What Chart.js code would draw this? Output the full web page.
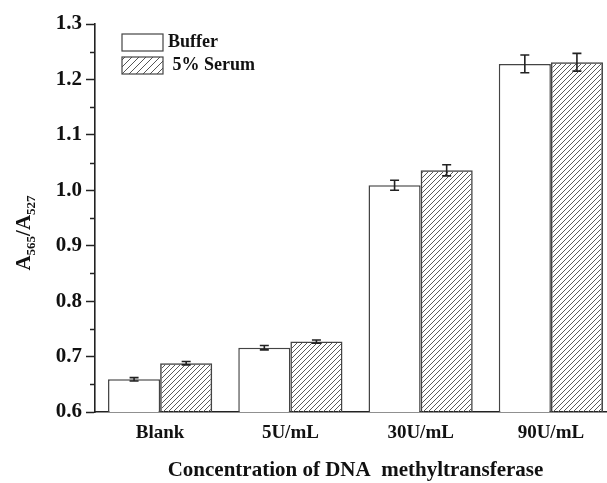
<!DOCTYPE html>
<html>
<head>
<meta charset="utf-8">
<script src="https://cdn.jsdelivr.net/npm/chart.js@4"></script>
<style>
  html, body { margin: 0; padding: 0; background: #fff; overflow: hidden; }
  #wrap { width: 625px; height: 483px; }
</style>
</head>
<body>
<div id="wrap"><canvas id="barChart" width="625" height="483"></canvas></div>
<script>
  // values
  const categories = ['Blank', '5U/mL', '30U/mL', '90U/mL'];
  const seriesLabels = ['Buffer', ' 5% Serum'];
  const bufferValues = [0.659, 0.716, 1.009, 1.228];
  const bufferErrors = [0.003, 0.004, 0.009, 0.016];
  const serumValues = [0.688, 0.727, 1.036, 1.231];
  const serumErrors = [0.003, 0.003, 0.010, 0.016];
  const yMin = 0.6, yMax = 1.3, yStep = 0.1;
  const xTitle = 'Concentration of DNA  methyltransferase';

  const serif = '"Liberation Serif", "Times New Roman", serif';
  const ink = '#222';

  function hatch(step, color) {
    const c = document.createElement('canvas');
    c.width = step; c.height = step;
    const g = c.getContext('2d');
    g.strokeStyle = color;
    g.lineWidth = 1;
    g.beginPath();
    g.moveTo(-1, step + 1); g.lineTo(step + 1, -1);
    g.moveTo(-1, 1); g.lineTo(1, -1);
    g.moveTo(step - 1, step + 1); g.lineTo(step + 1, step - 1);
    g.stroke();
    return g.createPattern(c, 'repeat');
  }

  const ctx = document.getElementById('barChart').getContext('2d');
  const barHatch = hatch(5, '#5a5a5a');
  const legendHatch = hatch(7, '#555');
  const errors = [bufferErrors, serumErrors];

  const errorBars = {
    id: 'errorBars',
    afterDatasetsDraw(chart) {
      const y = chart.scales.y;
      const c = chart.ctx;
      c.save();
      c.strokeStyle = ink;
      c.lineWidth = 1.6;
      chart.data.datasets.forEach((ds, di) => {
        chart.getDatasetMeta(di).data.forEach((bar, i) => {
          const v = ds.data[i], e = errors[di][i];
          const top = y.getPixelForValue(v + e), bot = y.getPixelForValue(v - e);
          c.beginPath();
          c.moveTo(bar.x, top); c.lineTo(bar.x, bot);
          c.moveTo(bar.x - 4.5, top); c.lineTo(bar.x + 4.5, top);
          c.moveTo(bar.x - 4.5, bot); c.lineTo(bar.x + 4.5, bot);
          c.stroke();
        });
      });
      c.restore();
    }
  };

  const extras = {
    id: 'extras',
    afterDraw(chart) {
      const c = chart.ctx;
      const y = chart.scales.y;
      const left = chart.chartArea.left;
      c.save();
      // minor ticks
      c.strokeStyle = ink;
      c.lineWidth = 1.5;
      for (let v = yMin + yStep / 2; v < yMax; v += yStep) {
        const p = Math.round(y.getPixelForValue(v)) + 0.5;
        c.beginPath(); c.moveTo(left - 5, p); c.lineTo(left, p); c.stroke();
      }
      // legend
      const boxes = [ '#fff', legendHatch ];
      c.font = 'bold 18px ' + serif;
      c.textBaseline = 'middle';
      boxes.forEach((fill, i) => {
        const bx = 122, by = 34 + i * 23;
        c.fillStyle = '#fff';
        c.fillRect(bx, by, 41, 17);
        c.fillStyle = fill;
        c.fillRect(bx, by, 41, 17);
        c.strokeStyle = '#444';
        c.lineWidth = 1.2;
        c.strokeRect(bx, by, 41, 17);
        c.fillStyle = '#111';
        c.fillText(seriesLabels[i], 168, by + 8.5);
      });
      // y title A565/A527
      c.translate(23, 233);
      c.rotate(-Math.PI / 2);
      const parts = [['A', 21, 0], ['565', 13, 5], ['/A', 21, 0], ['527', 13, 5]];
      let w = 0;
      parts.forEach(p => { c.font = 'bold ' + p[1] + 'px ' + serif; w += c.measureText(p[0]).width; });
      let x = -w / 2;
      c.textBaseline = 'alphabetic';
      c.fillStyle = '#111';
      parts.forEach(p => {
        c.font = 'bold ' + p[1] + 'px ' + serif;
        c.fillText(p[0], x, 7 + p[2]);
        x += c.measureText(p[0]).width;
      });
      c.restore();
    }
  };

  new Chart(ctx, {
    type: 'bar',
    data: {
      labels: categories,
      datasets: [
        {
          label: seriesLabels[0],
          data: bufferValues,
          backgroundColor: '#fff',
          borderColor: '#444',
          borderWidth: 1.5,
          categoryPercentage: 0.8,
          barPercentage: 1.0
        },
        {
          label: seriesLabels[1],
          data: serumValues,
          backgroundColor: barHatch,
          borderColor: '#444',
          borderWidth: 1.5,
          categoryPercentage: 0.8,
          barPercentage: 1.0
        }
      ]
    },
    options: {
      responsive: false,
      animation: false,
      devicePixelRatio: 1,
      layout: { padding: { top: 24, right: 9, left: 0, bottom: 0 } },
      plugins: { legend: { display: false }, tooltip: { enabled: false } },
      scales: {
        x: {
          grid: { display: false, drawTicks: false },
          border: { color: ink, width: 1.6 },
          ticks: { color: '#111', font: { family: serif, size: 19, weight: 'bold' }, padding: 10 },
          title: {
            display: true,
            text: xTitle,
            color: '#111',
            font: { family: serif, size: 21, weight: 'bold' },
            padding: { top: 0, bottom: 0 }
          },
          afterFit(scale) { scale.height = 71; }
        },
        y: {
          min: yMin,
          max: yMax,
          grid: { drawOnChartArea: false, tickLength: 9, tickColor: ink, tickWidth: 1.5 },
          border: { color: ink, width: 1.6 },
          ticks: {
            stepSize: yStep,
            padding: 4,
            color: '#111',
            font: { family: serif, size: 21, weight: 'bold' },
            callback: v => Number(v).toFixed(1)
          },
          afterFit(scale) { scale.width = 95; }
        }
      }
    },
    plugins: [errorBars, extras]
  });
</script>
</body>
</html>
